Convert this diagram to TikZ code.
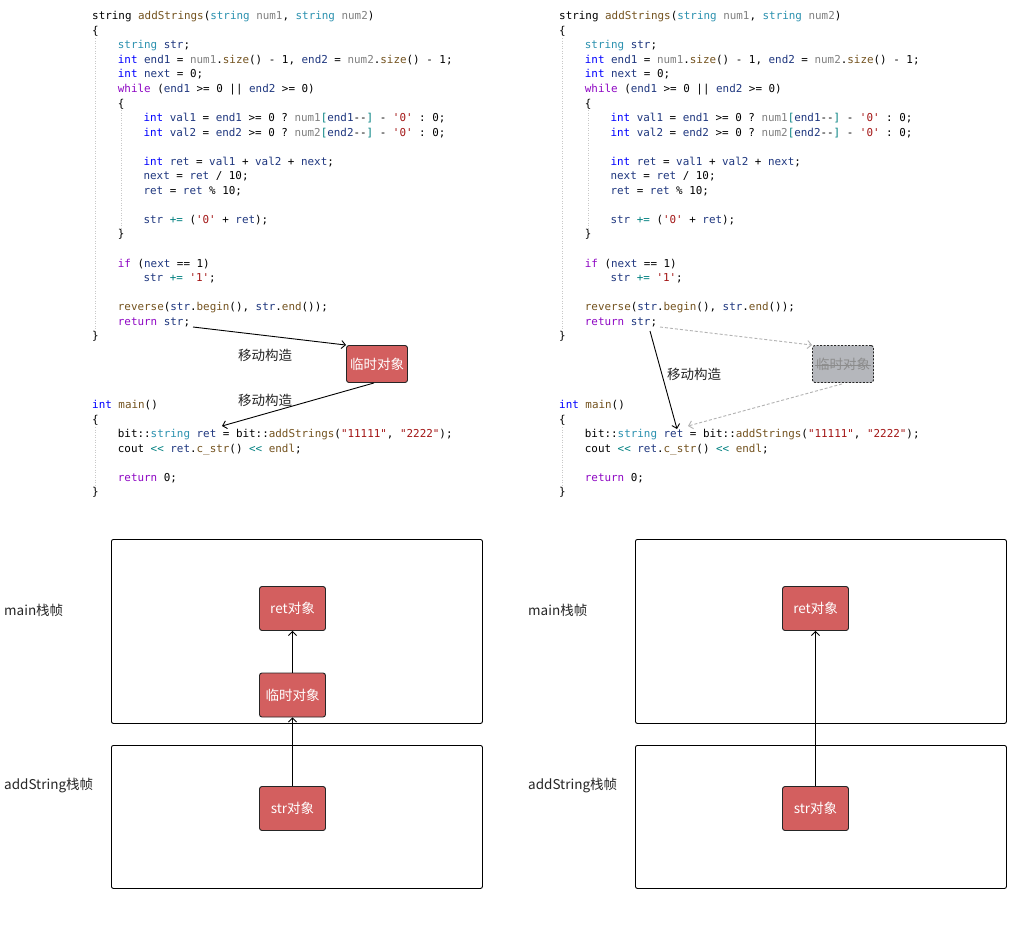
\documentclass[tikz,border=0pt]{standalone}
\usepackage{fontspec}
\setmonofont{DejaVu Sans Mono}
\newfontfamily\cjk{Noto Sans CJK SC}
\usetikzlibrary{arrows.meta,calc}
\definecolor{cTy}{HTML}{2B91AF}
\definecolor{cKw}{HTML}{0000FF}
\definecolor{cCt}{HTML}{8F08C4}
\definecolor{cFn}{HTML}{74531F}
\definecolor{cPa}{HTML}{808080}
\definecolor{cVa}{HTML}{1F377F}
\definecolor{cSt}{HTML}{A31515}
\definecolor{cOp}{HTML}{008080}
\definecolor{boxred}{HTML}{D35F5F}
\definecolor{boxgrey}{HTML}{B5B7BC}
\definecolor{guide}{HTML}{C8C8C8}
\newcommand\Ty[1]{\textcolor{cTy}{#1}}
\newcommand\Kw[1]{\textcolor{cKw}{#1}}
\newcommand\Ct[1]{\textcolor{cCt}{#1}}
\newcommand\Fn[1]{\textcolor{cFn}{#1}}
\newcommand\Pa[1]{\textcolor{cPa}{#1}}
\newcommand\Va[1]{\textcolor{cVa}{#1}}
\newcommand\St[1]{\textcolor{cSt}{#1}}
\newcommand\Op[1]{\textcolor{cOp}{#1}}
\tikzset{
  codeline/.style={inner sep=0pt, anchor=base west, font=\ttfamily\fontsize{10.9}{12}\selectfont, text=black},
  lbl/.style={inner sep=0pt, font=\cjk\fontsize{13.5}{15}\selectfont, text=black!85},
  redbox/.style={draw=black!85, line width=0.9pt, fill=boxred, rounded corners=2.5pt, text=white, inner sep=0pt, font=\cjk\fontsize{13.5}{15}\selectfont},
  greybox/.style={draw=black!85, line width=0.9pt, dash pattern=on 2pt off 1.5pt, fill=boxgrey, rounded corners=2.5pt, text=black!45, inner sep=0pt, font=\cjk\fontsize{13.5}{15}\selectfont},
  frame/.style={draw=black, line width=0.9pt, rounded corners=2pt},
  arr/.style={draw=black, line width=0.9pt, -{Straight Barb[length=4pt,width=8pt]}},
  garr/.style={draw=black!30, line width=0.9pt, dash pattern=on 3pt off 2pt, -{Straight Barb[length=4pt,width=8pt]}},
  iguide/.style={draw=guide, line width=0.5pt, dash pattern=on 1pt off 1.5pt},
}
% #1 prefix, #2 base x
\newcommand\addcode[2]{%
  \def\ya##1{16+14.55*##1+3.7}%
  \draw[iguide] (#2+3,38) -- (#2+3,330);
  \draw[iguide] (#2+29,110) -- (#2+29,228);
  \node[codeline] (#1a0) at (#2,{\ya{0}}) {string \Fn{addStrings}(\Ty{string} \Pa{num1}, \Ty{string} \Pa{num2})};
  \node[codeline] (#1a1) at (#2,{\ya{1}}) {\{};
  \node[codeline] (#1a2) at (#2+25.7,{\ya{2}}) {\Ty{string} \Va{str};};
  \node[codeline] (#1a3) at (#2+25.7,{\ya{3}}) {\Kw{int} \Va{end1} = \Pa{num1}.\Fn{size}() - 1, \Va{end2} = \Pa{num2}.\Fn{size}() - 1;};
  \node[codeline] (#1a4) at (#2+25.7,{\ya{4}}) {\Kw{int} \Va{next} = 0;};
  \node[codeline] (#1a5) at (#2+25.7,{\ya{5}}) {\Ct{while} (\Va{end1} >= 0 || \Va{end2} >= 0)};
  \node[codeline] (#1a6) at (#2+25.7,{\ya{6}}) {\{};
  \node[codeline] (#1a7) at (#2+51.4,{\ya{7}}) {\Kw{int} \Va{val1} = \Va{end1} >= 0 ? \Pa{num1}\Op{[}\Va{end1}--\Op{]} - \St{'0'} : 0;};
  \node[codeline] (#1a8) at (#2+51.4,{\ya{8}}) {\Kw{int} \Va{val2} = \Va{end2} >= 0 ? \Pa{num2}\Op{[}\Va{end2}--\Op{]} - \St{'0'} : 0;};
  \node[codeline] (#1a10) at (#2+51.4,{\ya{10}}) {\Kw{int} \Va{ret} = \Va{val1} + \Va{val2} + \Va{next};};
  \node[codeline] (#1a11) at (#2+51.4,{\ya{11}}) {\Va{next} = \Va{ret} / 10;};
  \node[codeline] (#1a12) at (#2+51.4,{\ya{12}}) {\Va{ret} = \Va{ret} \% 10;};
  \node[codeline] (#1a14) at (#2+51.4,{\ya{14}}) {\Va{str} \Op{+=} (\St{'0'} + \Va{ret});};
  \node[codeline] (#1a15) at (#2+25.7,{\ya{15}}) {\}};
  \node[codeline] (#1a17) at (#2+25.7,{\ya{17}}) {\Ct{if} (\Va{next} == 1)};
  \node[codeline] (#1a18) at (#2+51.4,{\ya{18}}) {\Va{str} \Op{+=} \St{'1'};};
  \node[codeline] (#1a20) at (#2+25.7,{\ya{20}}) {\Fn{reverse}(\Va{str}.\Fn{begin}(), \Va{str}.\Fn{end}());};
  \node[codeline] (#1a21) at (#2+25.7,{\ya{21}}) {\Ct{return} \Va{str};};
  \node[codeline] (#1a22) at (#2,{\ya{22}}) {\}};
  \def\yb##1{405+14.5*##1+3.7}%
  \draw[iguide] (#2+3,427) -- (#2+3,486);
  \node[codeline] (#1b0) at (#2,{\yb{0}}) {\Kw{int} \Fn{main}()};
  \node[codeline] (#1b1) at (#2,{\yb{1}}) {\{};
  \node[codeline] (#1b2) at (#2+25.7,{\yb{2}}) {bit::\Ty{string} \Va{ret} = bit::\Fn{addStrings}(\St{"11111"}, \St{"2222"});};
  \node[codeline] (#1b3) at (#2+25.7,{\yb{3}}) {cout \Op{<<} \Va{ret}.\Fn{c\_str}() \Op{<<} \Fn{endl};};
  \node[codeline] (#1b5) at (#2+25.7,{\yb{5}}) {\Ct{return} 0;};
  \node[codeline] (#1b6) at (#2,{\yb{6}}) {\}};
}
\begin{document}
\begin{tikzpicture}[x=1pt,y=-1pt]
\useasboundingbox[fill=white] (0,0) rectangle (1013,930);
% ---------- code ----------
\addcode{L}{92}
\addcode{R}{559}
% ---------- top left ----------
\node[redbox, minimum width=61pt, minimum height=37pt] (tmpL) at (377,364) {临时对象};
\coordinate (retStrL) at (193,327);
\coordinate (retVarL) at (222,426);
\draw[arr] (retStrL) -- (tmpL.north west);
\draw[arr] ($(tmpL.south)+(-3,0)$) -- (retVarL);
\node[lbl] (mv1) at (265,355) {移动构造};
\node[lbl] (mv2) at (265,400) {移动构造};
% ---------- top right ----------
\node[greybox, minimum width=61pt, minimum height=37pt] (tmpR) at (843,364) {临时对象};
\draw[black!45, line width=0.6pt] ($(tmpR.center)+(-28,1)$) -- ($(tmpR.center)+(28,1)$);
\coordinate (retStrR) at (650,331);
\coordinate (retStrR2) at (660,327);
\coordinate (retVarR) at (677,429);
\coordinate (retVarR2) at (688,426);
\draw[garr] (retStrR2) -- (tmpR.north west);
\draw[garr] ($(tmpR.south)+(-1,1)$) -- (retVarR2);
\draw[arr] (retStrR) -- (retVarR);
\node[lbl] (mv3) at (694,374) {移动构造};
% ---------- bottom left ----------
\node[frame, minimum width=371pt, minimum height=184pt, anchor=north west] (mainL) at (111,539) {};
\node[frame, minimum width=371pt, minimum height=143pt, anchor=north west] (addL) at (111,745) {};
\node[lbl, anchor=west] (mainLblL) at (4,610) {main栈帧};
\node[lbl, anchor=west] (addLblL) at (4,786) {addString栈帧};
\node[redbox, minimum width=66pt, minimum height=44pt] (retL) at (292.5,608.5) {ret对象};
\node[redbox, minimum width=66pt, minimum height=44pt] (tmpBL) at (292.5,695) {临时对象};
\node[redbox, minimum width=66pt, minimum height=44pt] (strL) at (292.5,808.5) {str对象};
\draw[arr] (tmpBL) -- (retL);
\draw[arr] (strL) -- (tmpBL);
% ---------- bottom right ----------
\node[frame, minimum width=371pt, minimum height=184pt, anchor=north west] (mainR) at (635,539) {};
\node[frame, minimum width=371pt, minimum height=143pt, anchor=north west] (addR) at (635,745) {};
\node[lbl, anchor=west] (mainLblR) at (528,610) {main栈帧};
\node[lbl, anchor=west] (addLblR) at (528,786) {addString栈帧};
\node[redbox, minimum width=66pt, minimum height=44pt] (retR) at (815.5,608.5) {ret对象};
\node[redbox, minimum width=66pt, minimum height=44pt] (strR) at (815.5,808.5) {str对象};
\draw[arr] (strR) -- (retR);
\end{tikzpicture}
\end{document}
